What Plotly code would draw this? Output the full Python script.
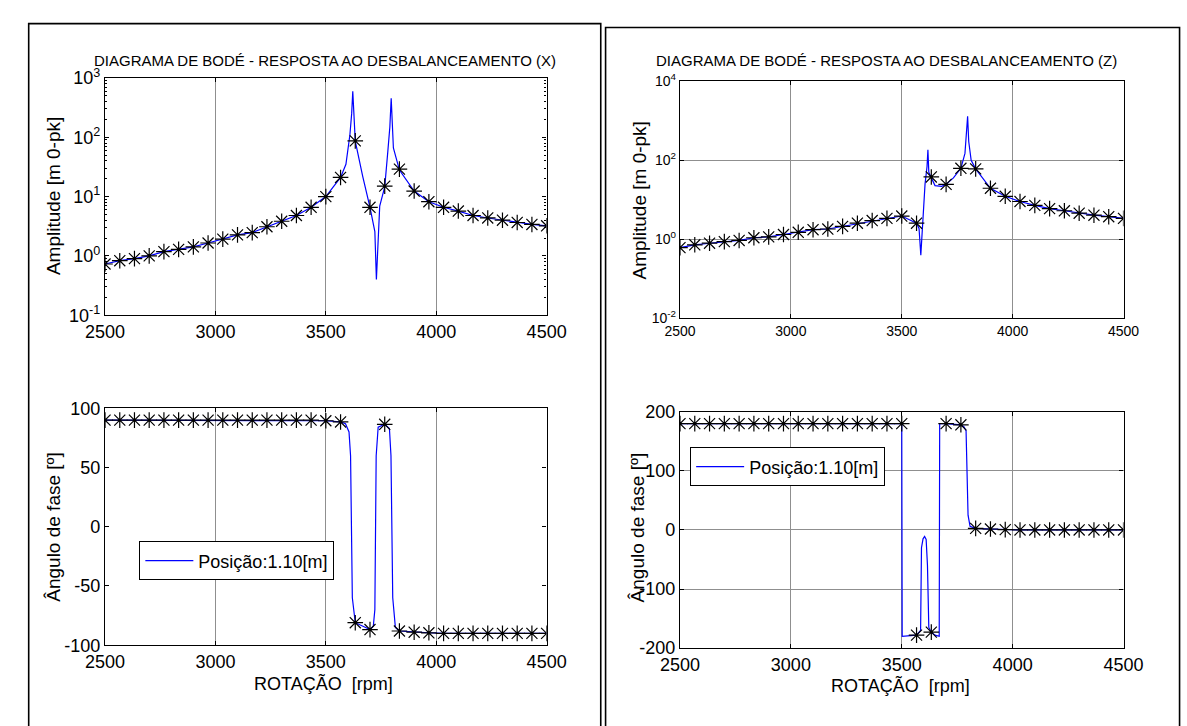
import plotly.graph_objects as go

W, H = 1187, 726
FONT = "Liberation Sans"

# ---------------- data ----------------
rpm_markers = [2500, 2566.7, 2633.3, 2700, 2766.7, 2833.3, 2900, 2966.7, 3033.3, 3100,
               3166.7, 3233.3, 3300, 3366.7, 3433.3, 3500, 3566.7, 3633.3, 3700, 3766.7,
               3833.3, 3900, 3966.7, 4033.3, 4100, 4166.7, 4233.3, 4300, 4366.7, 4433.3, 4500]

# Amplitude X (markers)
ampX_markers = [0.73, 0.83, 0.90, 1.0, 1.18, 1.29, 1.42, 1.65, 1.92, 2.26,
                2.47, 3.1, 3.84, 4.8, 6.6, 10.0, 21.0, 87.0, 6.6, 15.0,
                29.0, 12.4, 8.2, 6.6, 5.7, 4.8, 4.36, 4.0, 3.66, 3.39, 3.22]
# Amplitude X (line)
ampX_line_x = [2500, 2566.7, 2633.3, 2700, 2766.7, 2833.3, 2900, 2966.7, 3033.3, 3100,
               3166.7, 3233.3, 3300, 3366.7, 3433.3, 3500, 3566.7, 3591, 3609, 3617,
               3622, 3627, 3633.3, 3667, 3700, 3722, 3729, 3744, 3766.7, 3781,
               3790, 3796, 3801, 3806, 3833.3, 3900, 3966.7, 4033.3, 4100, 4166.7,
               4233.3, 4300, 4366.7, 4433.3, 4500]
ampX_line_y = [0.73, 0.83, 0.90, 1.0, 1.18, 1.29, 1.42, 1.65, 1.92, 2.26,
               2.47, 3.1, 3.84, 4.8, 6.6, 10.0, 21.0, 35.0, 110.0, 250.0,
               597.0, 200.0, 86.0, 22.0, 6.6, 2.57, 0.40, 6.9, 14.5, 59.0,
               150.0, 454.0, 200.0, 66.0, 28.0, 12.4, 8.2, 6.6, 5.7, 4.8,
               4.36, 4.0, 3.66, 3.39, 3.22]

# Phase X (markers)
phX_markers = [90, 90, 90, 90, 90, 90, 90, 90, 90, 90,
               90, 90, 90, 90, 90, 89.5, 88.5, -81, -86.8, 86.5,
               -88, -89, -89.5, -90, -90, -90, -90, -90, -90, -90, -90]
# Phase X (line)
phX_line_x = [2500, 3000, 3500, 3566.7, 3589, 3605, 3612, 3620, 3630, 3633.3,
              3700, 3715, 3722, 3728, 3737, 3766.7, 3788, 3795, 3803, 3815,
              3833.3, 3900, 3966.7, 4033.3, 4500]
phX_line_y = [90, 90, 89.5, 88.5, 87, 80, 60, -60, -80, -81,
              -86.8, -84, -70, 60, 84, 86.5, 83, 60, -60, -85,
              -88, -89, -89.5, -90, -90]

# Amplitude Z (markers)
ampZ_markers = [0.62, 0.73, 0.80, 0.88, 0.94, 1.1, 1.16, 1.33, 1.51, 1.76,
                1.83, 2.13, 2.57, 3.0, 3.4, 3.9, 2.57, 38.0, 24.7, 63.0,
                61.0, 19.7, 12.3, 9.1, 7.25, 6.0, 5.3, 4.6, 4.1, 3.75, 3.4]
# Amplitude Z (line)
ampZ_line_x = [2500, 2566.7, 2633.3, 2700, 2766.7, 2833.3, 2900, 2966.7, 3033.3, 3100,
               3166.7, 3233.3, 3300, 3366.7, 3433.3, 3500, 3566.7, 3578, 3586, 3595,
               3605, 3614, 3618, 3622, 3633.3, 3650, 3680, 3700, 3733, 3766.7,
               3785, 3792, 3797, 3802, 3813, 3833.3, 3900, 3966.7, 4033.3, 4100,
               4166.7, 4233.3, 4300, 4366.7, 4433.3, 4500]
ampZ_line_y = [0.62, 0.73, 0.80, 0.88, 0.94, 1.1, 1.16, 1.33, 1.51, 1.76,
               1.83, 2.13, 2.57, 3.0, 3.4, 3.9, 2.57, 1.9, 0.40, 3.0,
               25.0, 70.0, 186.0, 50.0, 36.0, 23.0, 22.0, 24.7, 36.0, 63.0,
               150.0, 400.0, 1300.0, 300.0, 100.0, 61.0, 19.7, 12.3, 9.1, 7.25,
               6.0, 5.3, 4.6, 4.1, 3.75, 3.4]

# Phase Z (markers)
phZ_markers = [180, 180, 180, 180, 180, 180, 180, 180, 180, 180,
               180, 180, 180, 180, 180, 180, -178, -173, 180, 178,
               2.7, 1.6, 0.5, 0, 0, 0, 0, 0, 0, 0, 0]
# Phase Z (line)
phZ_line_x = [2500, 3000, 3500, 3502, 3566.7, 3585, 3589, 3596, 3603, 3610,
              3616, 3622, 3633.3, 3650, 3669, 3671, 3700, 3766.7, 3780, 3790,
              3795, 3799, 3808, 3833.3, 3900, 3966.7, 4033.3, 4500]
phZ_line_y = [180, 180, 180, -180, -178, -170, -30, -15, -11, -16,
              -60, -165, -173, -178, -180, 180, 180, 178, 175, 168,
              100, 25, 6, 2.7, 1.6, 0.5, 0, 0]

x_ticks = [2500, 3000, 3500, 4000, 4500]
x_ticktext = ["2500", "3000", "3500", "4000", "4500"]
ampX_ticks = [0.1, 1, 10, 100, 1000]
ampX_ticktext = ["10<sup>-1</sup>", "10<sup>0</sup>", "10<sup>1</sup>", "10<sup>2</sup>", "10<sup>3</sup>"]
ampZ_ticks = [0.01, 1, 100, 10000]
ampZ_ticktext = ["10<sup>-2</sup>", "10<sup>0</sup>", "10<sup>2</sup>", "10<sup>4</sup>"]
phX_ticks = [-100, -50, 0, 50, 100]
phX_ticktext = ["-100", "-50", "0", "50", "100"]
phZ_ticks = [-200, -100, 0, 100, 200]
phZ_ticktext = ["-200", "-100", "0", "100", "200"]

title_X = "DIAGRAMA DE BODÉ - RESPOSTA AO DESBALANCEAMENTO (X)"
title_Z = "DIAGRAMA DE BODÉ - RESPOSTA AO DESBALANCEAMENTO (Z)"
ylab_amp = "Amplitude [m 0-pk]"
ylab_ph = "Ângulo de fase [º]"
xlab = "ROTAÇÃO  [rpm]"
legend_label = "Posição:1.10[m]"

# ---------------- helpers ----------------
def fx(p):
    return p / W

def fy(p):
    return 1 - p / H

BLUE = "#0000ff"
MARK = dict(symbol="asterisk-open", size=13, color="black", line=dict(color="#1a1a1a", width=1.2))

fig = go.Figure()

def add_pair(lx, ly, my, xa, ya, legend=None):
    fig.add_trace(go.Scatter(x=lx, y=ly, mode="lines", line=dict(color=BLUE, width=1.2),
                             name=legend_label, xaxis=xa, yaxis=ya,
                             showlegend=legend is not None, legend=legend or "legend"))
    fig.add_trace(go.Scatter(x=rpm_markers, y=my, mode="markers", marker=MARK,
                             xaxis=xa, yaxis=ya, showlegend=False))

add_pair(ampX_line_x, ampX_line_y, ampX_markers, "x", "y")
add_pair(phX_line_x, phX_line_y, phX_markers, "x2", "y2", legend="legend")
add_pair(ampZ_line_x, ampZ_line_y, ampZ_markers, "x3", "y3")
add_pair(phZ_line_x, phZ_line_y, phZ_markers, "x4", "y4", legend="legend2")

def xax(dom, anchor, size, grid):
    return dict(domain=[fx(dom[0]), fx(dom[1])], anchor=anchor, range=[2500, 4500],
                tickmode="array", tickvals=x_ticks, ticktext=x_ticktext,
                ticks="inside", ticklen=4, tickcolor="black", mirror="ticks",
                showline=True, linecolor="black", linewidth=1.3,
                showgrid=grid, gridcolor="#8f8f8f", gridwidth=1, zeroline=False,
                tickfont=dict(family=FONT, size=size, color="black"))

def yax(dom, anchor, size, grid, **kw):
    d = dict(domain=[fy(dom[1]), fy(dom[0])], anchor=anchor,
             ticks="inside", ticklen=4, tickcolor="black", mirror="ticks",
             showline=True, linecolor="black", linewidth=1.3,
             showgrid=grid, gridcolor="#8f8f8f", gridwidth=1, zeroline=False,
             tickfont=dict(family=FONT, size=size, color="black"))
    d.update(kw)
    return d

LT = ((88, 545), (68, 312.7))
LB = ((88, 545), (408.7, 653))
RT = ((683, 1142), (71.5, 316))
RB = ((683, 1142), (412.3, 656))

LEG = dict(xanchor="left", yanchor="top", bordercolor="black", borderwidth=1, bgcolor="white",
           itemwidth=48, font=dict(family=FONT, size=18, color="black"))

fig.update_layout(
    width=W, height=H, margin=dict(l=0, r=0, t=0, b=0),
    paper_bgcolor="white", plot_bgcolor="white",
    font=dict(family=FONT, color="black"),
    xaxis=xax(LT[0], "y", 18, True),
    yaxis=yax(LT[1], "x", 18, False, type="log", range=[-1, 3], tickmode="array",
              tickvals=ampX_ticks, ticktext=ampX_ticktext,
              minor=dict(ticks="inside", ticklen=2, tickcolor="black", dtick="D1", showgrid=False)),
    xaxis2=xax(LB[0], "y2", 18, True),
    yaxis2=yax(LB[1], "x2", 18, False, range=[-100, 100], tickmode="array",
               tickvals=phX_ticks, ticktext=phX_ticktext),
    xaxis3=xax(RT[0], "y3", 14, True),
    yaxis3=yax(RT[1], "x3", 14, True, type="log", range=[-2, 4], tickmode="array",
               tickvals=ampZ_ticks, ticktext=ampZ_ticktext),
    xaxis4=xax(RB[0], "y4", 18, True),
    yaxis4=yax(RB[1], "x4", 18, True, range=[-200, 200], tickmode="array",
               tickvals=phZ_ticks, ticktext=phZ_ticktext),
    legend=dict(x=fx(123.5), y=fy(546), **LEG),
    legend2=dict(x=fx(693.5), y=fy(449), **LEG),
)

ann = []
def text(x, y, s, size, angle=0):
    ann.append(dict(x=fx(x), y=fy(y), xref="paper", yref="paper", text=s, showarrow=False,
                    xanchor="center", yanchor="middle", textangle=angle,
                    font=dict(family=FONT, size=size, color="black")))

text(316, 50, title_X, 15)
text(897, 50, title_Z, 15)
text(34, 190, ylab_amp, 19, -90)
text(35, 531, ylab_ph, 19, -90)
text(641, 194, ylab_amp, 19, -90)
text(639, 531, ylab_ph, 19, -90)
text(314, 692, xlab, 18)
text(911, 695, xlab, 18)
fig.update_layout(annotations=ann)

fig.update_layout(shapes=[
    dict(type="rect", xref="paper", yref="paper", x0=fx(9), x1=fx(601), y0=fy(12), y1=fy(760),
         line=dict(color="black", width=1.6)),
    dict(type="rect", xref="paper", yref="paper", x0=fx(606), x1=fx(1200), y0=fy(16), y1=fy(760),
         line=dict(color="black", width=1.6)),
])

fig.write_html("out.html", config={"displayModeBar": False},
               post_script="document.body.style.margin='0';document.body.style.overflow='hidden';")
